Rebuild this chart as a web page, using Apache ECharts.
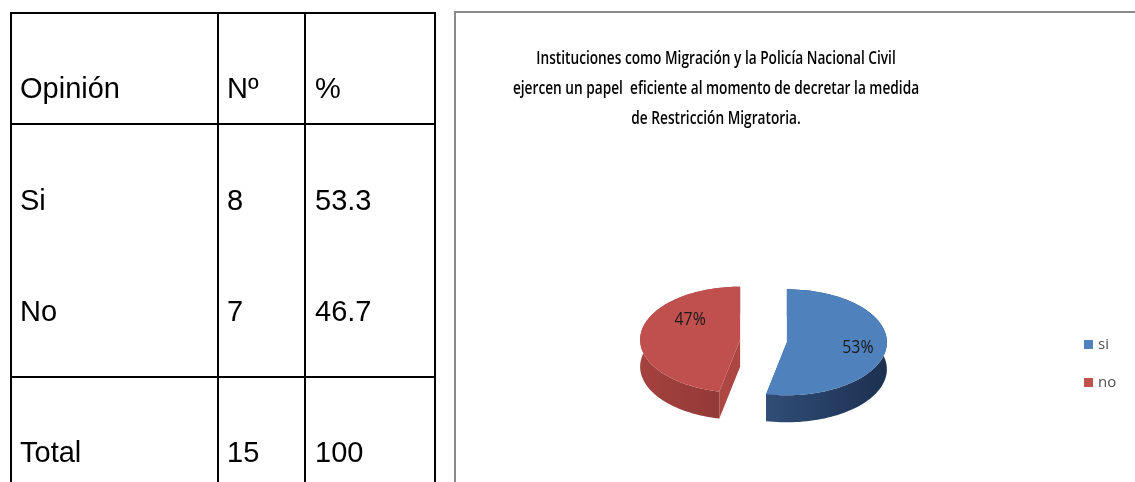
<!DOCTYPE html>
<html>
<head>
<meta charset="utf-8">
<script src="https://cdn.jsdelivr.net/npm/echarts@6/dist/echarts.min.js"></script>
<style>
  html, body { margin:0; padding:0; background:#fff; width:1135px; height:482px; overflow:hidden; }
  #chart { position:absolute; left:0; top:0; width:1135px; height:482px; }
  #table { position:absolute; left:0; top:0; width:450px; height:482px; font-family:"Liberation Sans", Arial, sans-serif; font-size:29px; color:#000; }
  .vl { position:absolute; width:2px; background:#000; }
  .hl { position:absolute; height:2px; background:#000; }
  .cell { position:absolute; line-height:34px; height:34px; white-space:nowrap; }
</style>
</head>
<body>
<div id="chart"></div>
<div id="table"></div>
<script>
// ---- data ----
const titleText = 'Instituciones como Migración y la Policía Nacional Civil\nejercen un papel  eficiente al momento de decretar la medida\nde Restricción Migratoria.';
const categories = ['si', 'no'];
const counts = [8, 7];
const tableHeader = ['Opinión', 'Nº', '%'];
const tableLabels = ['Si', 'No', 'Total'];
const tableCounts = [8, 7, 15];
const tablePercents = ['53.3', '46.7', '100'];

const colors = ['#4F81BD', '#C0504D'];
const sideColors = [['#3d6191', '#1d3050'], ['#a4423f', '#7a2c2b']];
const faceColors = ['#3a5c8a', '#ab4643'];
const labelOffsets = [[71, 6], [-50, -20]];

// ---- table (HTML) ----
(function () {
  const t = document.getElementById('table');
  const vx = [10, 217, 304, 434];
  vx.forEach(x => { const d = document.createElement('div'); d.className = 'vl'; d.style.left = x + 'px'; d.style.top = '12px'; d.style.height = '480px'; t.appendChild(d); });
  const hy = [12, 123, 376];
  hy.forEach(y => { const d = document.createElement('div'); d.className = 'hl'; d.style.top = y + 'px'; d.style.left = '10px'; d.style.width = '426px'; t.appendChild(d); });
  const colX = [20, 227, 315];
  const rowY = [88, 200, 311, 452];
  const rows = [tableHeader].concat(tableLabels.map((l, i) => [l, String(tableCounts[i]), tablePercents[i]]));
  rows.forEach((r, ri) => r.forEach((txt, ci) => {
    const d = document.createElement('div'); d.className = 'cell';
    d.style.left = colX[ci] + 'px'; d.style.top = (rowY[ri] - 17) + 'px';
    d.textContent = txt; t.appendChild(d);
  }));
})();

// ---- chart ----
const chart = echarts.init(document.getElementById('chart'), null, { renderer: 'canvas' });
const total = counts.reduce((a, b) => a + b, 0);
const CX = 763.5, CY = 341, RX = 100, RY = 53, DEPTH = 27, EXPLODE = 23.5;

function pt(cx, cy, th, dz) { return [cx + RX * Math.sin(th), cy - RY * Math.cos(th) + (dz || 0)]; }

function renderItem(params, api) {
  const i = params.dataIndex;
  let start = 0; for (let j = 0; j < i; j++) start += counts[j];
  const a0 = start / total * Math.PI * 2;
  const a1 = (start + counts[i]) / total * Math.PI * 2;
  const mid = (a0 + a1) / 2;
  const cx = CX + EXPLODE * Math.sin(mid);
  const cy = CY - EXPLODE * (RY / RX) * Math.cos(mid);
  const steps = 90;
  const topArc = [], botArc = [];
  for (let s = 0; s <= steps; s++) {
    const th = a0 + (a1 - a0) * s / steps;
    topArc.push(pt(cx, cy, th, 0));
    botArc.push(pt(cx, cy, th, DEPTH));
  }
  const wall = topArc.concat(botArc.slice().reverse());
  const top = [[cx, cy]].concat(topArc);
  const E0 = pt(cx, cy, a0, 0), E1 = pt(cx, cy, a1, 0);
  const face0 = [[cx, cy], E0, [E0[0], E0[1] + DEPTH], [cx, cy + DEPTH]];
  const face1 = [[cx, cy], E1, [E1[0], E1[1] + DEPTH], [cx, cy + DEPTH]];
  const grad = new echarts.graphic.LinearGradient(cx - RX, 0, cx + RX, 0,
    [{ offset: 0, color: sideColors[i][0] }, { offset: 1, color: sideColors[i][1] }], true);
  const lx = cx + labelOffsets[i][0], ly = cy + labelOffsets[i][1];
  return {
    type: 'group',
    children: [
      { type: 'polygon', shape: { points: face0 }, style: { fill: faceColors[i] } },
      { type: 'polygon', shape: { points: face1 }, style: { fill: faceColors[i] } },
      { type: 'polygon', shape: { points: wall }, style: { fill: grad } },
      { type: 'polygon', shape: { points: top }, style: { fill: colors[i] } },
      { type: 'text', x: lx, y: ly, scaleX: 0.88, style: { text: Math.round(counts[i] / total * 100) + '%', fill: '#1a1a1a',
        font: '18px "Open Sans", sans-serif', align: 'center', verticalAlign: 'middle' } }
    ]
  };
}

chart.setOption({
  animation: false,
  color: colors,
  legend: {
    orient: 'vertical', left: 1084, top: 337, padding: 0,
    itemWidth: 9, itemHeight: 9, itemGap: 23, icon: 'rect',
    textStyle: { fontSize: 15, color: '#505050', fontFamily: 'Open Sans' },
    data: categories
  },
  graphic: [
    { type: 'rect', shape: { x: 455, y: 12, width: 720, height: 520 }, style: { fill: 'none', stroke: '#8a8a8a', lineWidth: 2 }, z: 0 },
    { type: 'text', x: 716, y: 44, scaleX: 0.76, style: { text: titleText, font: '600 18px "Open Sans", sans-serif', fill: '#000', align: 'center', verticalAlign: 'top', lineHeight: 30 } }
  ],
  series: [
    { type: 'custom', coordinateSystem: 'none', renderItem: renderItem, data: counts, silent: true },
    { type: 'pie', radius: [0, 0], center: [-100, -100], label: { show: false }, labelLine: { show: false }, silent: true,
      data: categories.map((c, i) => ({ name: c, value: counts[i] })) }
  ]
});
</script>
</body>
</html>
